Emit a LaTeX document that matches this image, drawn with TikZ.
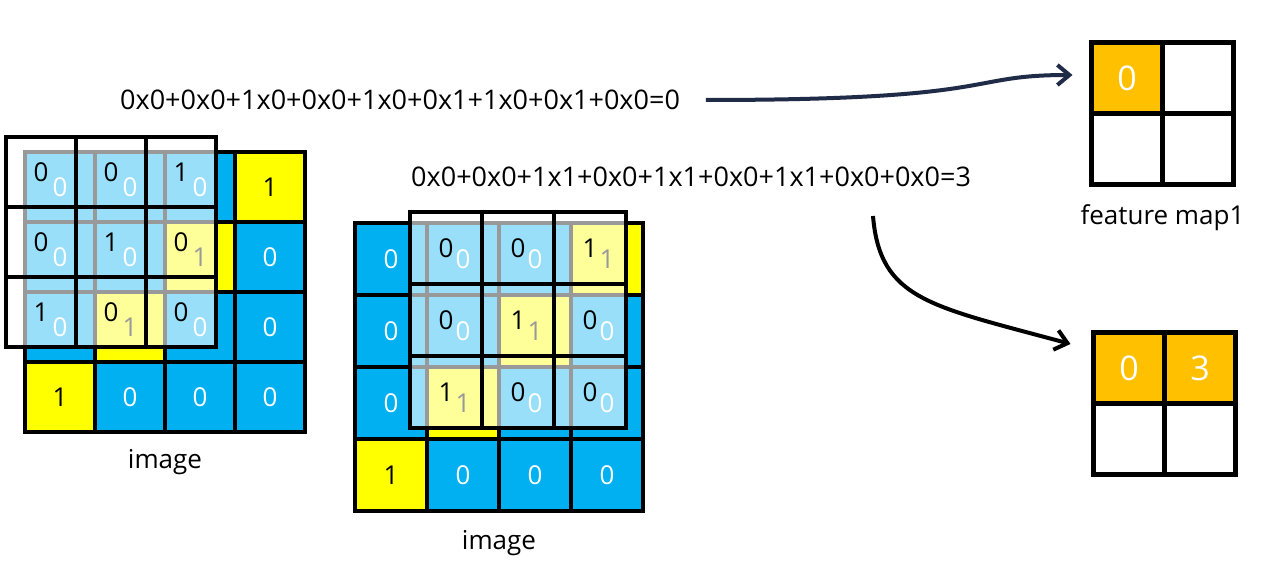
\documentclass[tikz,border=0pt]{standalone}
\usepackage{fontspec}
\setmainfont{Open Sans}
\usepackage{xcolor}
\usepackage{tikz}
\usetikzlibrary{arrows.meta,positioning}

\definecolor{imgblue}{HTML}{00B0F0}
\definecolor{imgyellow}{HTML}{FFFF00}
\definecolor{fmorange}{HTML}{FFC000}
\definecolor{arrnavy}{HTML}{1F2B47}

\begin{document}
\begin{tikzpicture}[
  x=1pt,y=-1pt,
  node distance=0pt,
  cell/.style={draw,line width=4.5pt,minimum size=#1,inner sep=0pt,outer sep=0pt,
    font=\fontsize{26}{26}\selectfont},
  cell/.default=70pt,
  win/.style={cell=#1,fill=white,fill opacity=0.6,text opacity=1,text=black},
  fm/.style={cell=71pt,font=\fontsize{34}{34}\selectfont,text=white},
  eqn/.style={font=\fontsize{27}{30}\selectfont,inner sep=0pt},
  lbl/.style={font=\fontsize{26}{30}\selectfont,inner sep=0pt},
  arr/.style={-{Straight Barb[length=12pt,width=20pt]},line width=4pt}
]
\useasboundingbox[fill=white] (0,0) rectangle (1267,569);

% first image with the filter on the left
\foreach \r in {0,...,3}{
  \foreach \c in {0,...,3}{
    \pgfmathtruncatemacro\v{\r+\c==3}
    \ifnum\v=1 \colorlet{cellbg}{imgyellow}\colorlet{cellfg}{black}%
    \else \colorlet{cellbg}{imgblue}\colorlet{cellfg}{white}\fi
    \node[cell,fill=cellbg,text=cellfg] (A-\r-\c) at (60+70*\c,187+70*\r) {\v};
  }
}
\foreach \r in {0,1,2}{
  \foreach \c in {0,1,2}{
    \pgfmathtruncatemacro\k{\r+\c==2}
    \node[win=70pt] (WA-\r-\c) at (41+70*\c,172+70*\r) {\k};
  }
}
\node[lbl,below=17pt of A-3-1.south east] (imgA) {image};

% second image, filter moved one step
\foreach \r in {0,...,3}{
  \foreach \c in {0,...,3}{
    \pgfmathtruncatemacro\v{\r+\c==3}
    \ifnum\v=1 \colorlet{cellbg}{imgyellow}\colorlet{cellfg}{black}%
    \else \colorlet{cellbg}{imgblue}\colorlet{cellfg}{white}\fi
    \node[cell=72pt,fill=cellbg,text=cellfg] (B-\r-\c) at (391+72*\c,259+72*\r) {\v};
  }
}
\foreach \r in {0,1,2}{
  \foreach \c in {0,1,2}{
    \pgfmathtruncatemacro\k{\r+\c==2}
    \node[win=72pt] (WB-\r-\c) at (446+72*\c,248+72*\r) {\k};
  }
}
\node[lbl,below=19pt of B-3-1.south east] (imgB) {image};

% sums
\node[eqn] (eqA) at (400,100) {0x0+0x0+1x0+0x0+1x0+0x1+1x0+0x1+0x0=0};
\node[eqn] (eqB) at (691,177) {0x0+0x0+1x1+0x0+1x1+0x0+1x1+0x0+0x0=3};

% feature maps
\node[fm,fill=fmorange] (F-0-0) at (1127,78) {0};
\node[fm,right=of F-0-0] (F-0-1) {};
\node[fm,below=of F-0-0] (F-1-0) {};
\node[fm,right=of F-1-0] (F-1-1) {};
\node[lbl,below=20pt of F-1-0.south east] (fmA) {feature map1};

\node[fm,fill=fmorange] (G-0-0) at (1129,368) {0};
\node[fm,fill=fmorange,right=of G-0-0] (G-0-1) {3};
\node[fm,below=of G-0-0] (G-1-0) {};
\node[fm,right=of G-1-0] (G-1-1) {};

\coordinate (bB) at (873,216);
\draw[arr,arrnavy] ([xshift=26pt]eqA.east) .. controls +(300,0) and +(-110,0) .. ([xshift=-19pt,yshift=3pt]F-0-0.west);
\draw[arr,black] (bB) .. controls +(7,84) and +(-140,-38) .. ([xshift=-23pt,yshift=24pt]G-0-0.west);
\end{tikzpicture}
\end{document}
